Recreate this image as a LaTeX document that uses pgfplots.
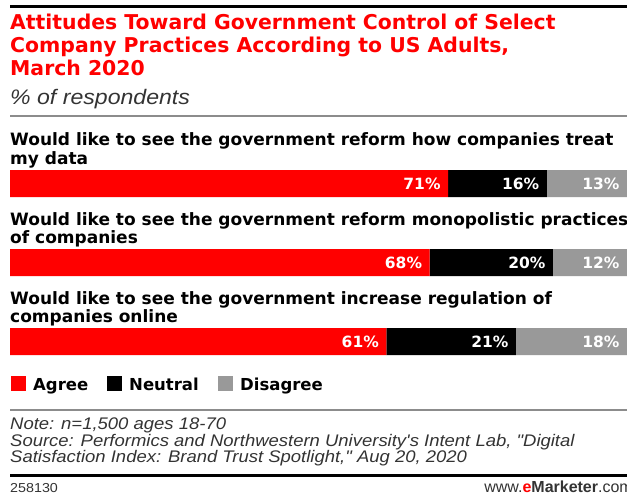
\documentclass[border=0pt]{standalone}
\usepackage{fontspec}
\setmainfont{DejaVu Sans}
\newfontfamily\notefont{Liberation Sans}
\newfontfamily\notewide{Liberation Sans}[FakeStretch=1.1]
\usepackage{pgfplots}
\pgfplotsset{compat=1.18}
\definecolor{emred}{HTML}{FF0000}
\definecolor{emgray}{HTML}{999999}
\definecolor{rulegray}{HTML}{8C8C8C}
\definecolor{txtgray}{HTML}{333333}

\pgfplotsset{barbox/.style={
  at={(10pt,-170pt)}, anchor=north west,
  width=617pt, height=185pt, scale only axis,
  xmin=0, xmax=100, ymin=-0.1709, ymax=2.1709, y dir=reverse,
  hide axis, clip=false}}

\begin{document}
\begin{tikzpicture}
\useasboundingbox (0pt,0pt) rectangle (627pt,-495pt);

\begin{scope}[x=1pt,y=1pt]
% header
\fill[black] (10,-5.5) rectangle (627,-8.5);
\begin{scope}[every node/.style={anchor=base west, inner sep=0pt, text=emred,
    font=\fontsize{20.4}{23}\selectfont\bfseries}]
  \node at (10,-30) {Attitudes Toward Government Control of Select};
  \node at (10,-53) {Company Practices According to US Adults,};
  \node at (10,-76) {March 2020};
\end{scope}
\node[anchor=base west, inner sep=0pt, text=txtgray,
  font=\fontsize{21}{22}\selectfont\notewide\itshape] at (10,-104) {\% of respondents};
\draw[rulegray, line width=1.2pt] (10,-116) -- (627,-116);

% category labels
\begin{scope}[every node/.style={anchor=base west, inner sep=0pt, text=black,
    font=\fontsize{17}{18}\selectfont\bfseries}]
  \node at (10,-146) {Would like to see the government reform how companies treat};
  \node at (10,-164) {my data};
  \node at (10,-225) {Would like to see the government reform monopolistic practices};
  \node at (10,-243) {of companies};
  \node at (10,-304) {Would like to see the government increase regulation of};
  \node at (10,-322) {companies online};
\end{scope}

% legend
\begin{scope}[every node/.style={anchor=base west, inner sep=0pt, text=black,
    font=\fontsize{16.5}{17}\selectfont\bfseries}]
  \fill[emred] (11,-376) rectangle (26,-391);
  \node at (33,-390) {Agree};
  \fill[black] (107,-376) rectangle (122,-391);
  \node at (129,-390) {Neutral};
  \fill[emgray] (218,-376) rectangle (233,-391);
  \node at (240,-390) {Disagree};
\end{scope}

% footer
\draw[rulegray, line width=1.2pt] (10,-410) -- (627,-410);
\begin{scope}[every node/.style={anchor=base west, inner sep=0pt, text=txtgray,
    font=\fontsize{16.8}{17}\selectfont\notewide\itshape}]
  \node at (10,-429) {Note: n=1,500 ages 18-70};
  \node at (10,-446) {Source: Performics and Northwestern University's Intent Lab, "Digital};
  \node at (10,-462) {Satisfaction Index: Brand Trust Spotlight," Aug 20, 2020};
\end{scope}
\fill[black] (10,-474) rectangle (627,-477);
\node[anchor=base west, inner sep=0pt, text=txtgray, font=\fontsize{13}{14}\selectfont\notewide]
  at (10,-492) {258130};
\node[anchor=base east, inner sep=0pt, text=txtgray, font=\fontsize{16}{16}\selectfont\notefont]
  at (633,-492) {www.\textcolor{emred}{\bfseries e}{\bfseries Marketer}.com};
\end{scope}

% stacked bars
\begin{axis}[barbox, xbar stacked, bar width=27pt]
\addplot[fill=emred, draw=none] coordinates {(71,0) (68,1) (61,2)};
\addplot[fill=black, draw=none] coordinates {(16,0) (20,1) (21,2)};
\addplot[fill=emgray, draw=none] coordinates {(13,0) (12,1) (18,2)};
\end{axis}

% value labels at the right end of each segment
\begin{axis}[barbox,
  point meta=explicit symbolic,
  nodes near coords,
  every node near coord/.append style={anchor=east, xshift=-4pt, yshift=0pt,
    text=white, font=\fontsize{15.5}{15}\selectfont\bfseries}]
\addplot[draw=none, mark=none] coordinates {(71,0) [71\%] (68,1) [68\%] (61,2) [61\%]};
\addplot[draw=none, mark=none] coordinates {(87,0) [16\%] (88,1) [20\%] (82,2) [21\%]};
\addplot[draw=none, mark=none] coordinates {(100,0) [13\%] (100,1) [12\%] (100,2) [18\%]};
\end{axis}
\end{tikzpicture}
\end{document}
